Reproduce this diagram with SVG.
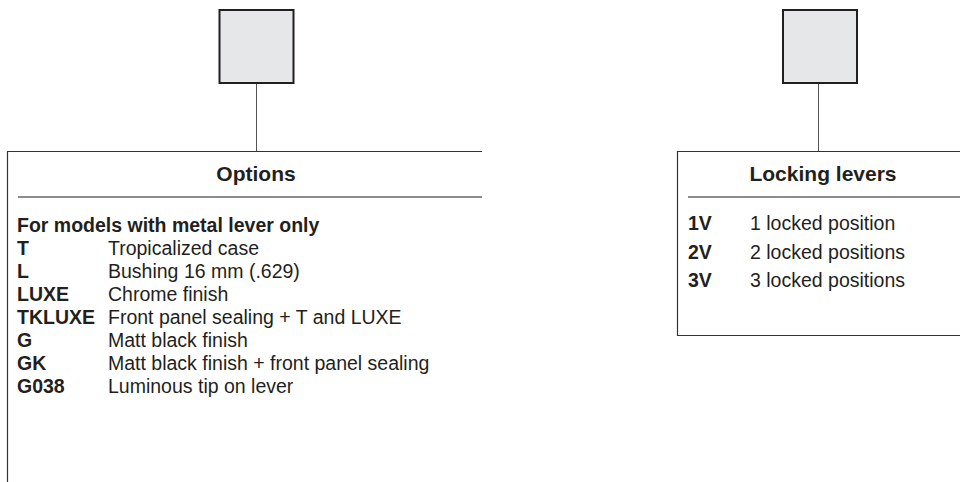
<svg xmlns="http://www.w3.org/2000/svg" width="960" height="482" viewBox="0 0 960 482">
<style>
.sq{fill:#e6e7e8;stroke:#231f20;stroke-width:2}
.box{fill:#fff;stroke:#333;stroke-width:1.2}
.sep{stroke:#8c8c8c;stroke-width:2}
.con{stroke:#555;stroke-width:1}
.t{font-family:"Liberation Sans",Arial,sans-serif;fill:#231f20;font-size:19.5px}
.b{font-weight:bold}
.h{font-family:"Liberation Sans",Arial,sans-serif;fill:#231f20;font-size:21px;font-weight:bold;text-anchor:middle}
</style>
<rect width="960" height="482" fill="#fff"/>
<g id="connectors">
<line class="con" x1="256.5" y1="84" x2="256.5" y2="151"/>
<line class="con" x1="818.5" y1="84" x2="818.5" y2="151"/>
</g>
<g id="node-left-square">
<rect class="sq" x="219.5" y="10" width="74" height="73"/>
</g>
<g id="node-right-square">
<rect class="sq" x="783" y="10" width="74" height="73"/>
</g>
<g id="node-options">
<path class="box" d="M7.5 482V151.5H482" fill="none"/>
<line class="sep" x1="18" y1="197" x2="482" y2="197"/>
<text class="h" x="256" y="181">Options</text>
<text class="t b" x="17" y="232">For models with metal lever only</text>
<text class="t b" x="17" y="255">T</text><text class="t" x="108" y="255">Tropicalized case</text>
<text class="t b" x="17" y="278">L</text><text class="t" x="108" y="278">Bushing 16 mm (.629)</text>
<text class="t b" x="17" y="301">LUXE</text><text class="t" x="108" y="301">Chrome finish</text>
<text class="t b" x="17" y="324">TKLUXE</text><text class="t" x="108" y="324">Front panel sealing + T and LUXE</text>
<text class="t b" x="17" y="347">G</text><text class="t" x="108" y="347">Matt black finish</text>
<text class="t b" x="17" y="370">GK</text><text class="t" x="108" y="370">Matt black finish + front panel sealing</text>
<text class="t b" x="17" y="393">G038</text><text class="t" x="108" y="393">Luminous tip on lever</text>
</g>
<g id="node-locking">
<path class="box" d="M962 335.5H677.5V151.5H962" fill="none"/>
<line class="sep" x1="688" y1="197" x2="962" y2="197"/>
<text class="h" x="823" y="181">Locking levers</text>
<text class="t b" x="688" y="230">1V</text><text class="t" x="750" y="230">1 locked position</text>
<text class="t b" x="688" y="258.5">2V</text><text class="t" x="750" y="258.5">2 locked positions</text>
<text class="t b" x="688" y="287">3V</text><text class="t" x="750" y="287">3 locked positions</text>
</g>
</svg>
